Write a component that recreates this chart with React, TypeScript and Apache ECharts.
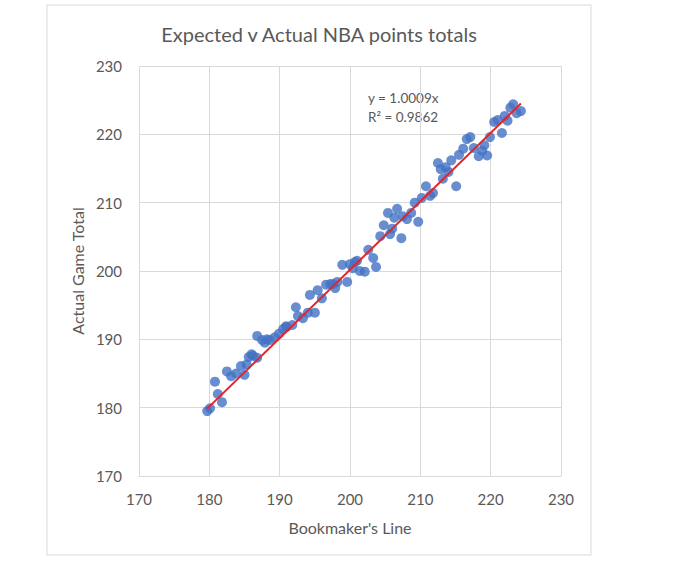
import React, { useEffect, useRef } from "react";
import * as echarts from "echarts";

const bookmakerLine: number[] = [
  179.7, 180.1, 180.8, 181.2, 181.8, 182.5, 183.1, 183.8, 184.5, 185.0, 185.6, 186.0,
  186.2, 186.8, 186.8, 187.5, 187.9, 188.6, 189.3, 189.9, 190.5, 191.0, 191.8, 192.3,
  192.6, 193.3, 194.0, 194.3, 195.0, 195.4, 196.0, 196.6, 197.2, 197.6, 198.2, 198.9,
  199.6, 200.0, 200.4, 201.0, 201.4, 202.1, 202.6, 203.3, 203.7, 204.3, 204.8, 205.4,
  205.7, 206.3, 206.7, 207.3, 207.5, 208.1, 208.7, 209.2, 209.7, 210.2, 210.8, 211.4,
  211.8, 212.5, 212.9, 213.2, 213.6, 214.4, 215.1, 215.5, 216.1, 216.6, 217.1, 217.6,
  218.3, 219.1, 219.5, 219.9, 220.5, 221.0, 221.6, 222.0, 222.8, 223.2, 223.7, 224.3,
  185.3, 188.2, 190.9, 197.9, 200.7, 206.0, 214.0, 218.8, 222.4,
];
const actualTotal: number[] = [
  179.5, 179.9, 183.8, 182.0, 180.8, 185.3, 184.6, 185.0, 186.1, 184.8, 187.4, 187.8,
  187.6, 187.3, 190.5, 189.9, 189.5, 189.9, 190.3, 190.8, 191.5, 191.8, 192.1, 194.7,
  193.4, 193.1, 193.9, 196.5, 193.9, 197.2, 196.0, 198.0, 198.1, 198.1, 198.4, 200.9,
  198.4, 201.0, 200.4, 201.5, 200.0, 199.9, 203.1, 201.9, 200.6, 205.1, 206.7, 208.5,
  205.4, 207.8, 209.1, 204.8, 208.0, 207.6, 208.5, 210.0, 207.2, 210.7, 212.4, 211.0,
  211.4, 215.8, 214.9, 213.5, 215.2, 216.2, 212.4, 217.0, 217.9, 219.3, 219.6, 218.0,
  216.8, 218.4, 216.9, 219.6, 221.8, 222.1, 220.2, 222.7, 223.9, 224.4, 223.1, 223.4,
  186.3, 190.0, 191.9, 197.5, 201.3, 206.2, 214.5, 217.6, 222.0,
];
const axisTicks: number[] = [170, 180, 190, 200, 210, 220, 230];
const slope = 1.0009;
const rSquared = 0.9862;

const FONT = "Lato, 'Open Sans', sans-serif";
const GREY = "#595959";

export default function App() {
  const ref = useRef<HTMLDivElement>(null);
  useEffect(() => {
    if (!ref.current) return;
    const chart = echarts.init(ref.current, undefined, { renderer: "svg" });
    const points = bookmakerLine.map((x, i) => [x, actualTotal[i]]);
    const xMin = Math.min(...bookmakerLine);
    const xMax = Math.max(...bookmakerLine);
    const trend = [
      [xMin, xMin * slope],
      [xMax, xMax * slope],
    ];
    chart.setOption({
      animation: false,
      backgroundColor: "#ffffff",
      textStyle: { fontFamily: FONT },
      title: {
        text: "Expected v Actual NBA points totals",
        left: 314,
        top: 19,
        textAlign: "center",
        textStyle: { fontFamily: FONT, fontSize: 20, fontWeight: "normal", color: GREY },
      },
      graphic: [
        {
          type: "rect",
          shape: { x: 47, y: 5, width: 544, height: 550 },
          style: { fill: "none", stroke: "#d9d9d9", lineWidth: 1 },
          silent: true,
        },
        {
          type: "text",
          left: 368,
          top: 88,
          style: {
            text: `y = ${slope.toFixed(4)}x\nR² = ${rSquared.toFixed(4)}`,
            fontFamily: FONT,
            fontSize: 13.5,
            lineHeight: 19,
            fill: GREY,
          },
          silent: true,
        },
      ],
      grid: { left: 139, right: 132, top: 66, bottom: 104 },
      xAxis: {
        type: "value",
        min: axisTicks[0],
        max: axisTicks[axisTicks.length - 1],
        interval: 10,
        name: "Bookmaker's Line",
        nameLocation: "middle",
        nameGap: 43,
        nameTextStyle: { fontFamily: FONT, fontSize: 16, color: GREY },
        axisLine: { show: true, lineStyle: { color: "#d9d9d9" } },
        axisTick: { show: false },
        axisLabel: { margin: 15, fontFamily: FONT, fontSize: 15, color: GREY },
        splitLine: { show: true, lineStyle: { color: "#d9d9d9" } },
      },
      yAxis: {
        type: "value",
        min: axisTicks[0],
        max: axisTicks[axisTicks.length - 1],
        interval: 10,
        name: "Actual Game Total",
        nameLocation: "middle",
        nameGap: 54,
        nameRotate: 90,
        nameTextStyle: { fontFamily: FONT, fontSize: 16, color: GREY },
        axisLine: { show: false },
        axisTick: { show: false },
        axisLabel: { margin: 17, fontFamily: FONT, fontSize: 15, color: GREY },
        splitLine: { show: true, lineStyle: { color: "#d9d9d9" } },
      },
      series: [
        {
          type: "scatter",
          data: points,
          symbolSize: 10,
          itemStyle: { color: "#4472C4" },
          z: 2,
        },
        {
          type: "line",
          data: trend,
          symbol: "none",
          lineStyle: { color: "#E3242B", width: 2 },
          z: 3,
        },
      ],
    });
    return () => chart.dispose();
  }, []);
  return (
    <div
      ref={ref}
      style={{ position: "absolute", left: 0, top: 0, width: 693, height: 580 }}
    />
  );
}
